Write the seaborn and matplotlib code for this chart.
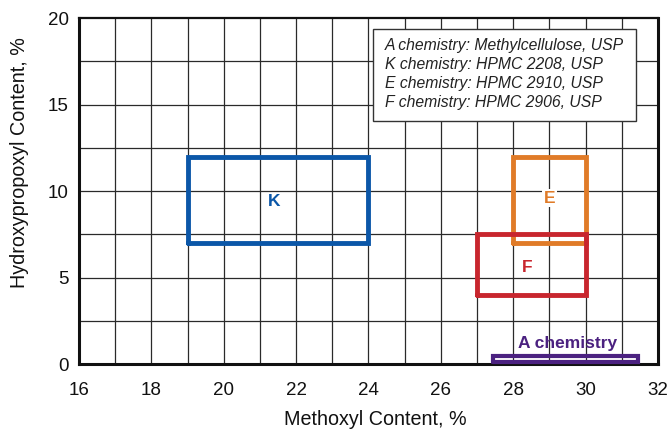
import matplotlib
matplotlib.use("Agg")
import matplotlib.pyplot as plt
from matplotlib.patches import Rectangle
import seaborn as sns
import pandas as pd

# Box data: chemistry, methoxyl range, hydroxypropoxyl range
boxes = ["K", "E", "F", "A"]
x_low = [19, 28, 27, 27.45]
x_high = [24, 30, 30, 31.45]
y_low = [7, 7, 4, 0.1]
y_high = [12, 12, 7.5, 0.45]
labels = ["K", "E", "F", "A chemistry"]
label_x = [21.4, 29.0, 28.4, 29.5]
label_y = [9.4, 9.6, 5.6, 1.2]
colors = ["#0B57A8", "#E07B28", "#C8262E", "#4B2180"]

legend_lines = ["A chemistry: Methylcellulose, USP",
                "K chemistry: HPMC 2208, USP",
                "E chemistry: HPMC 2910, USP",
                "F chemistry: HPMC 2906, USP"]

rows = []
for b, x0, x1, y0, y1 in zip(boxes, x_low, x_high, y_low, y_high):
    pts = [(x0, y0), (x1, y0), (x1, y1), (x0, y1), (x0, y0)]
    for i, (px, py) in enumerate(pts):
        rows.append({"box": b, "order": i, "x": px, "y": py})
df = pd.DataFrame(rows)

sns.set_style("white")
plt.rcParams["font.family"] = ["Liberation Sans", "DejaVu Sans"]

fig = plt.figure(figsize=(6.72, 4.32), dpi=100)
ax = fig.add_axes([0.1176, 0.157, 0.8614, 0.801])

ax.set_xlim(16, 32)
ax.set_ylim(0, 20)

# grid
for gx in range(16, 33):
    ax.axvline(gx, color="#2a2a2a", lw=0.9, zorder=1)
for gy in [2.5, 5, 7.5, 10, 12.5, 15, 17.5]:
    ax.axhline(gy, color="#2a2a2a", lw=0.9, zorder=1)

# legend text box
ax.add_patch(Rectangle((0.508, 0.702), 0.454, 0.266, transform=ax.transAxes,
                       fc="white", ec="#333333", lw=1.0, zorder=5))
for i, line in enumerate(legend_lines):
    ax.text(0.528, 0.922 - i * 0.055, line, transform=ax.transAxes,
            ha="left", va="center", fontsize=11.3, style="italic",
            color="#222222", zorder=6)

palette = dict(zip(boxes, colors))
big = df[df["box"] != "A"]
small = df[df["box"] == "A"]
sns.lineplot(data=big, x="x", y="y", hue="box", units="box", estimator=None,
             sort=False, palette=palette, lw=3.5, ax=ax, legend=False, zorder=4,
             solid_joinstyle="miter", clip_on=False)
sns.lineplot(data=small, x="x", y="y", hue="box", units="box", estimator=None,
             sort=False, palette=palette, lw=3.0, ax=ax, legend=False, zorder=4,
             solid_joinstyle="miter", clip_on=False)

for lab, lx, ly, c in zip(labels, label_x, label_y, colors):
    ax.text(lx, ly, lab, ha="center", va="center",
            fontsize=12.5, fontweight="bold", color=c, zorder=6,
            bbox=dict(boxstyle="square,pad=0.1", fc="white", ec="none") if lab == "E" else None)

ax.set_xticks(range(16, 33, 2))
ax.set_yticks([0, 5, 10, 15, 20])
ax.tick_params(axis="both", length=0, labelsize=13.5, colors="#111111")
ax.tick_params(axis="x", pad=13)
ax.tick_params(axis="y", pad=7.5)
ax.set_xlabel("Methoxyl Content, %", fontsize=14.2, color="#111111")
ax.set_ylabel("Hydroxypropoxyl Content, %", fontsize=14.2, color="#111111")
ax.xaxis.set_label_coords(0.511, -0.133)
ax.yaxis.set_label_coords(-0.086, 0.584)

for s in ["left", "bottom", "right"]:
    ax.spines[s].set_linewidth(2.2)
    ax.spines[s].set_color("#111111")
ax.spines["top"].set_linewidth(1.6)
ax.spines["top"].set_color("#111111")
for s in ax.spines.values():
    s.set_zorder(3)

fig.savefig("out.png", dpi=100)
